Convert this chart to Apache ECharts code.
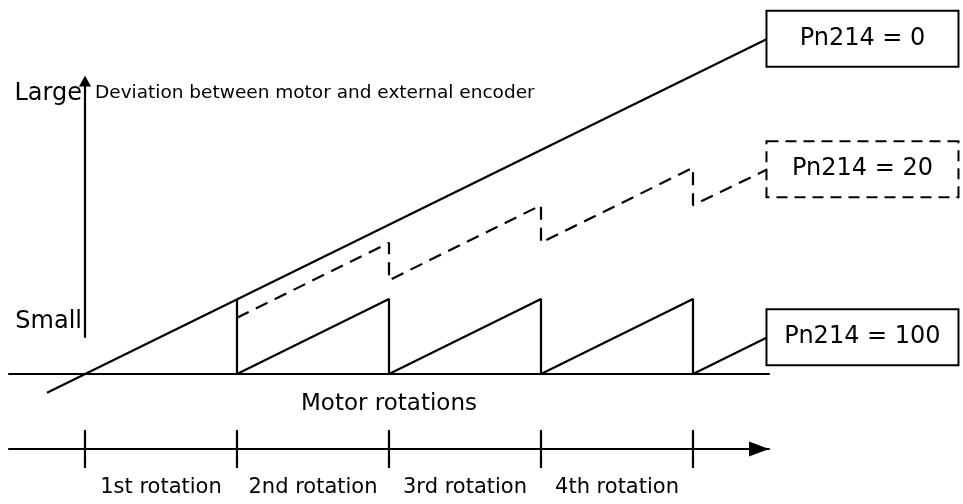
<!DOCTYPE html>
<html>
<head>
<meta charset="utf-8">
<script src="https://cdn.jsdelivr.net/npm/echarts@6/dist/echarts.min.js"></script>
<style>
  html, body { margin: 0; padding: 0; background: #fff; }
  #chart { width: 963px; height: 504px; }
</style>
</head>
<body>
<div id="chart"></div>
<script>
// Rotation axis: tick positions (rotation boundaries) and the labels between them
const rotationTicks = [0, 1, 2, 3, 4];
const rotationLabelAt = [0.5, 1.5, 2.5, 3.5];
const rotationLabels = ['1st rotation', '2nd rotation', '3rd rotation', '4th rotation'];

// Deviation axis: label positions and texts
const deviationLabelAt = [0.06, 0.95];
const deviationLabels = ['Small', 'Large'];

// Deviation between motor and external encoder per setting, as [rotations, deviation]
const pn214_0 = [[-0.25, -0.25], [4.49, 4.47]];
const pn214_20 = [[1, 0.75], [2, 1.75], [2, 1.25], [3, 2.25], [3, 1.75], [4, 2.75], [4, 2.25], [4.49, 2.73]];
const pn214_100 = [[1, 1], [1, 0], [2, 1], [2, 0], [3, 1], [3, 0], [4, 1], [4, 0], [4.49, 0.49]];
const seriesNames = ['Pn214 = 0', 'Pn214 = 20', 'Pn214 = 100'];

const FONT = '"DejaVu Sans", Verdana, sans-serif';
const INK = '#000';
const LW = 2.2;

function pick(values, labels) {
  return function (v) {
    for (let i = 0; i < values.length; i++) {
      if (Math.abs(values[i] - v) < 1e-6) return labels[i];
    }
    return '';
  };
}

// Boxed caption attached to the end of each line
function boxLabel(text, borderType) {
  return {
    show: true,
    distance: 0,
    formatter: '{t|' + text + '}',
    width: 190,
    height: 54,
    padding: 0,
    backgroundColor: '#fff',
    borderColor: INK,
    borderWidth: 2,
    borderType: borderType,
    rich: {
      t: { fontFamily: FONT, fontSize: 24, color: INK, align: 'center', lineHeight: 54 }
    }
  };
}

function lineSeries(name, data, lineType, boxType) {
  return {
    name: name,
    type: 'line',
    data: data,
    symbol: 'none',
    showSymbol: false,
    clip: false,
    silent: true,
    xAxisIndex: 0,
    yAxisIndex: 0,
    lineStyle: { color: INK, width: LW, type: lineType },
    emphasis: { disabled: true },
    endLabel: boxLabel(name, boxType)
  };
}

const chart = echarts.init(document.getElementById('chart'), null, { renderer: 'canvas' });

chart.setOption({
  animation: false,
  backgroundColor: '#fff',
  grid: [
    { left: 9, width: 760, top: 14, bottom: 55, outerBoundsMode: 'none' },
    { left: 85, width: 10, top: 81, bottom: 167, outerBoundsMode: 'none' }
  ],
  xAxis: [
    {
      // zero-deviation baseline
      gridIndex: 0, type: 'value', min: -0.5, max: 4.5,
      axisLine: { show: true, onZero: true, lineStyle: { color: INK, width: LW } },
      axisTick: { show: false }, axisLabel: { show: false }, splitLine: { show: false }
    },
    {
      // rotation count axis with arrow
      gridIndex: 0, type: 'value', position: 'bottom', min: -0.5, max: 4.5,
      axisLine: {
        show: true, onZero: false,
        symbol: ['none', 'triangle'], symbolSize: [15, 20], symbolOffset: [0, -10],
        lineStyle: { color: INK, width: LW }
      },
      axisTick: { show: true, customValues: rotationTicks, length: 19, inside: false, lineStyle: { color: INK, width: LW } },
      axisLabel: {
        show: true, customValues: rotationLabelAt, formatter: pick(rotationLabelAt, rotationLabels),
        margin: 28, fontFamily: FONT, fontSize: 21, color: INK
      },
      splitLine: { show: false },
      name: 'Motor rotations', nameLocation: 'middle', nameGap: -45,
      nameMoveOverlap: false,
      nameTextStyle: { fontFamily: FONT, fontSize: 23, color: INK, verticalAlign: 'middle' }
    },
    {
      // upper half of the rotation ticks
      gridIndex: 0, type: 'value', position: 'bottom', min: -0.5, max: 4.5,
      axisLine: { show: false, onZero: false },
      axisTick: { show: true, customValues: rotationTicks, length: 19, inside: true, lineStyle: { color: INK, width: LW } },
      axisLabel: { show: false }, splitLine: { show: false }
    },
    { gridIndex: 1, type: 'value', min: 0, max: 1, show: false }
  ],
  yAxis: [
    { gridIndex: 0, type: 'value', min: -1, max: 4.8, show: false },
    {
      // deviation axis
      gridIndex: 1, type: 'value', min: 0, max: 1, position: 'left',
      axisLine: {
        show: true, onZero: false,
        symbol: ['none', 'triangle'], symbolSize: [12, 11],
        lineStyle: { color: INK, width: LW }
      },
      axisTick: { show: false }, splitLine: { show: false },
      axisLabel: {
        show: true, customValues: deviationLabelAt, formatter: pick(deviationLabelAt, deviationLabels),
        margin: 3, fontFamily: FONT, fontSize: 24, color: INK
      },
      name: 'Deviation between motor and external encoder',
      nameLocation: 'end', nameGap: -12,
      nameMoveOverlap: false,
      nameTextStyle: {
        fontFamily: FONT, fontSize: 18.5, color: INK,
        align: 'left', verticalAlign: 'middle', padding: [0, 0, 0, 10]
      }
    }
  ],
  series: [
    lineSeries(seriesNames[0], pn214_0, 'solid', 'solid'),
    lineSeries(seriesNames[1], pn214_20, [13, 8], [11, 7]),
    lineSeries(seriesNames[2], pn214_100, 'solid', 'solid')
  ]
});
</script>
</body>
</html>
